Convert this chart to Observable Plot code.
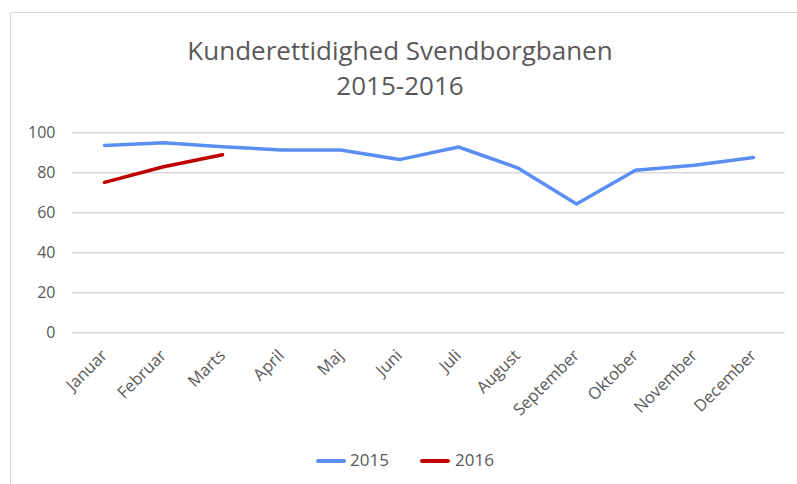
<!DOCTYPE html>
<html>
<head>
<meta charset="utf-8">
<script src="https://cdn.jsdelivr.net/npm/d3@7"></script>
<script src="https://cdn.jsdelivr.net/npm/@observablehq/plot@0.6"></script>
<style>
  html, body { margin: 0; padding: 0; background: #fff; }
  #wrap { position: relative; width: 797px; height: 484px; overflow: hidden; font-family: "Open Sans", sans-serif; color: #595959; }
  #frame { position: absolute; left: 10px; top: 12px; width: 800px; height: 500px; border: 1px solid #d9d9d9; box-sizing: border-box; }
  #title { position: absolute; left: 0; top: 33px; width: 800px; text-align: center; font-size: 26px; line-height: 35px; color: #595959; }
  #chart { position: absolute; left: 0; top: 0; }
  #legend { position: absolute; top: 448px; left: 0; width: 797px; height: 24px; font-size: 17px; }
  .sw { position: absolute; top: 11px; height: 4px; width: 30px; border-radius: 2px; }
  .lt { position: absolute; top: 0; line-height: 24px; }
</style>
</head>
<body>
<div id="wrap">
  <div id="frame"></div>
  <div id="chart"></div>
  <div id="title">Kunderettidighed Svendborgbanen<br>2015-2016</div>
  <div id="legend"></div>
</div>
<script>
const months = ["Januar","Februar","Marts","April","Maj","Juni","Juli","August","September","Oktober","November","December"];
const values2015 = [93.7, 95.0, 93.0, 91.4, 91.4, 86.6, 92.9, 82.5, 64.4, 81.3, 83.8, 87.6];
const values2016 = [75.2, 83.0, 89.0];
const yTicks = [0, 20, 40, 60, 80, 100];
const seriesNames = ["2015", "2016"];
const seriesColors = ["#5B8EF2", "#C00000"];

const data = [
  ...values2015.map((v, i) => ({month: months[i], value: v, series: seriesNames[0]})),
  ...values2016.map((v, i) => ({month: months[i], value: v, series: seriesNames[1]}))
];

const H = 440;
const chart = Plot.plot({
  width: 797,
  height: H,
  marginLeft: 72,
  marginRight: 12.3,
  marginTop: 132.3,
  marginBottom: H - 332.3,
  style: {fontFamily: "Open Sans, sans-serif", color: "#595959", background: "transparent"},
  x: {type: "point", domain: months, padding: 0.5},
  y: {domain: [0, 100]},
  color: {domain: seriesNames, range: seriesColors},
  marks: [
    Plot.gridY(yTicks, {stroke: "#d9d9d9", strokeOpacity: 1, strokeWidth: 1.5}),
    Plot.axisY(yTicks, {tickSize: 0, tickPadding: 17, fontSize: 16, fill: "#595959", label: null}),
    Plot.axisX({tickSize: 0, tickRotate: -45, tickPadding: 20, fontSize: 16.5, fill: "#595959", label: null}),
    Plot.line(data, {x: "month", y: "value", z: "series", stroke: "series", strokeWidth: 3.5, strokeLinecap: "round", strokeLinejoin: "round"})
  ]
});
document.getElementById("chart").appendChild(chart);

const legend = document.getElementById("legend");
const legendPos = [[316, 350], [420, 455]];
seriesNames.forEach((name, i) => {
  const sw = document.createElement("div");
  sw.className = "sw";
  sw.style.left = legendPos[i][0] + "px";
  sw.style.background = seriesColors[i];
  legend.appendChild(sw);
  const t = document.createElement("div");
  t.className = "lt";
  t.style.left = legendPos[i][1] + "px";
  t.textContent = name;
  legend.appendChild(t);
});
</script>
</body>
</html>
